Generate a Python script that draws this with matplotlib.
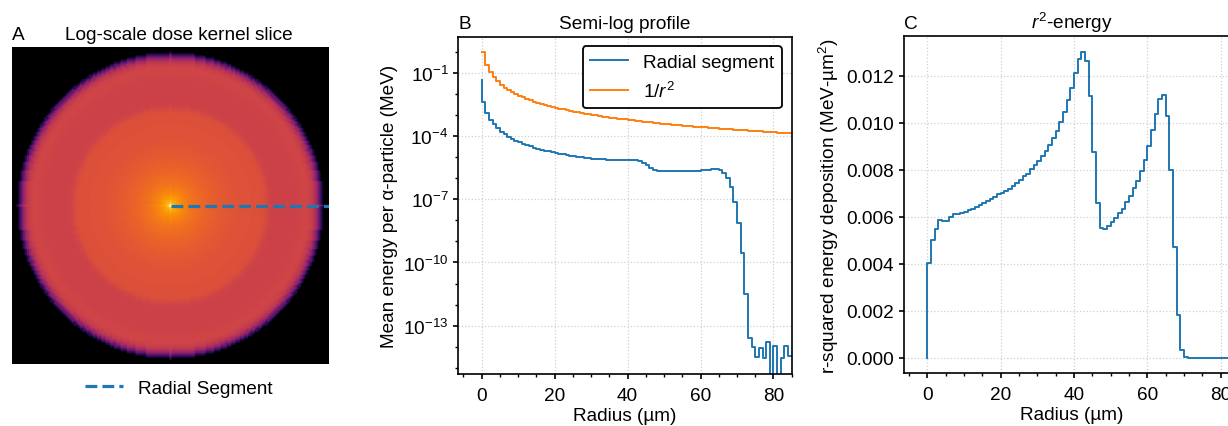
import numpy as np
import matplotlib
matplotlib.use("Agg")
import matplotlib.pyplot as plt
from matplotlib.colors import LogNorm
from matplotlib.ticker import FixedLocator, LogFormatterSciNotation, AutoMinorLocator, NullFormatter

# radial shells, 1 um wide (value k covers r in (k-1, k])
radius = np.arange(0, 86)

# mean energy per alpha particle in each shell (MeV)
energy = np.array([
    4.7e-2, 4.04e-3, 1.25e-3, 6.10e-4, 3.67e-4, 2.33e-4, 1.62e-4, 1.22e-4, 9.55e-5, 7.57e-5,
    6.15e-5, 5.13e-5, 4.38e-5, 3.76e-5, 3.28e-5, 2.90e-5, 2.58e-5, 2.31e-5, 2.09e-5, 1.90e-5,
    1.74e-5, 1.59e-5, 1.47e-5, 1.36e-5, 1.27e-5, 1.19e-5, 1.12e-5, 1.06e-5, 1.00e-5, 9.55e-6,
    9.11e-6, 8.72e-6, 8.38e-6, 8.09e-6, 7.84e-6, 7.63e-6, 7.45e-6, 7.33e-6, 7.25e-6, 7.21e-6,
    7.19e-6, 7.21e-6, 7.21e-6, 7.05e-6, 6.53e-6, 5.51e-6, 4.15e-6, 2.98e-6, 2.40e-6, 2.28e-6,
    2.24e-6, 2.22e-6, 2.21e-6, 2.19e-6, 2.18e-6, 2.19e-6, 2.20e-6, 2.23e-6, 2.24e-6, 2.29e-6,
    2.34e-6, 2.42e-6, 2.52e-6, 2.62e-6, 2.69e-6, 2.65e-6, 2.36e-6, 1.78e-6, 1.02e-6, 3.82e-7,
    7.3e-8, 7.4e-9, 2.8e-10, 3.3e-12, 2.7e-14, 9.3e-15, 3.4e-15, 9.0e-15, 2.8e-15, 1.6e-14,
    0.0, 1.1e-14, 0.0, 2.8e-15, 1.1e-14, 3.6e-15,
])

# y ticks of the semi-log panel
log_major = [1e-1, 1e-4, 1e-7, 1e-10, 1e-13]
log_minor = [1e0, 1e-2, 1e-3, 1e-5, 1e-6, 1e-8, 1e-9, 1e-11, 1e-12, 1e-14, 1e-15]

plt.rcParams.update({
    "font.family": ["Liberation Sans", "DejaVu Sans"],
    "font.size": 13.7,
    "axes.titlesize": 13.7,
    "mathtext.fontset": "custom",
    "mathtext.rm": "Liberation Sans",
    "mathtext.it": "Liberation Sans:italic",
    "axes.linewidth": 1.2,
    "xtick.major.width": 1.2,
    "ytick.major.width": 1.2,
    "xtick.minor.width": 1.0,
    "ytick.minor.width": 1.0,
    "xtick.major.pad": 6.0,
})

r2_energy = radius ** 2 * energy
inv_r2 = np.full(len(radius), np.nan)
inv_r2[1:] = 1.0 / radius[1:] ** 2

# 2D slice through the kernel, built from the shell values
half = 74
grid = np.arange(-half, half + 1)
xx, yy = np.meshgrid(grid, grid)
shell = np.ceil(np.hypot(xx, yy)).astype(int)
kernel = np.where(shell < len(energy), energy[np.minimum(shell, len(energy) - 1)], 0.0)

fig = plt.figure(figsize=(12.28, 4.27), dpi=100)
W, H = 1228, 427


def box(left, top, width, height):
    return [left / W, (H - top - height) / H, width / W, height / H]


# A
ax_a = fig.add_axes(box(12, 48, 317, 317))
cmap = plt.get_cmap("inferno").copy()
cmap.set_bad("black")
cmap.set_under("black")
ax_a.imshow(kernel, origin="lower", cmap=cmap,
            norm=LogNorm(vmin=10 ** -10.9, vmax=energy[0]),
            extent=(-half - 0.5, half + 0.5, -half - 0.5, half + 0.5))
ax_a.plot([0, half + 0.5], [0, 0], "--", color="tab:blue", lw=2.3, label="Radial Segment")
ax_a.set_xlim(-half - 0.5, half + 0.5)
ax_a.set_ylim(-half - 0.5, half + 0.5)
ax_a.axis("off")
ax_a.set_title("Log-scale dose kernel slice", x=0.525)
ax_a.set_title("A", loc="left")
ax_a.legend(loc="upper center", bbox_to_anchor=(0.525, 0.005), frameon=False)

grid_kw = dict(color="#d0d0d0", ls=":", lw=0.9)

# B
ax_b = fig.add_axes(box(458.3, 37.7, 333.4, 337.3))
ax_b.step(radius, energy, where="pre", color="tab:blue", lw=1.4, label="Radial segment")
ax_b.step(radius, inv_r2, where="pre", color="tab:orange", lw=1.4, label="$1/r^2$")
ax_b.set_yscale("log")
ax_b.set_xlim(-6.4, 85)
ax_b.set_ylim(10 ** -15.3, 10 ** 0.73)
ax_b.yaxis.set_major_locator(FixedLocator(log_major))
ax_b.yaxis.set_major_formatter(LogFormatterSciNotation())
ax_b.yaxis.set_minor_locator(FixedLocator(log_minor))
ax_b.yaxis.set_minor_formatter(NullFormatter())
ax_b.xaxis.set_minor_locator(AutoMinorLocator())
ax_b.grid(True, which="major", **grid_kw)
ax_b.set_xlabel("Radius (µm)", labelpad=2)
ax_b.set_ylabel("Mean energy per α-particle (MeV)")
ax_b.set_title("Semi-log profile")
ax_b.set_title("B", loc="left")
leg = ax_b.legend(loc="upper right", framealpha=1, edgecolor="black", fancybox=True)
leg.get_frame().set_linewidth(1.3)

# C
ax_c = fig.add_axes(box(904, 37.3, 335, 337))
ax_c.step(radius, r2_energy, where="pre", color="tab:blue", lw=1.4)
ax_c.set_xlim(-6.4, 85)
ax_c.xaxis.set_minor_locator(AutoMinorLocator())
ax_c.grid(True, which="major", **grid_kw)
ax_c.set_xlabel("Radius (µm)", labelpad=2)
ax_c.set_ylabel("r-squared energy deposition (MeV-µm$^2$)")
ax_c.set_title("$r^2$-energy")
ax_c.set_title("C", loc="left")

fig.savefig("out.png", dpi=100)
